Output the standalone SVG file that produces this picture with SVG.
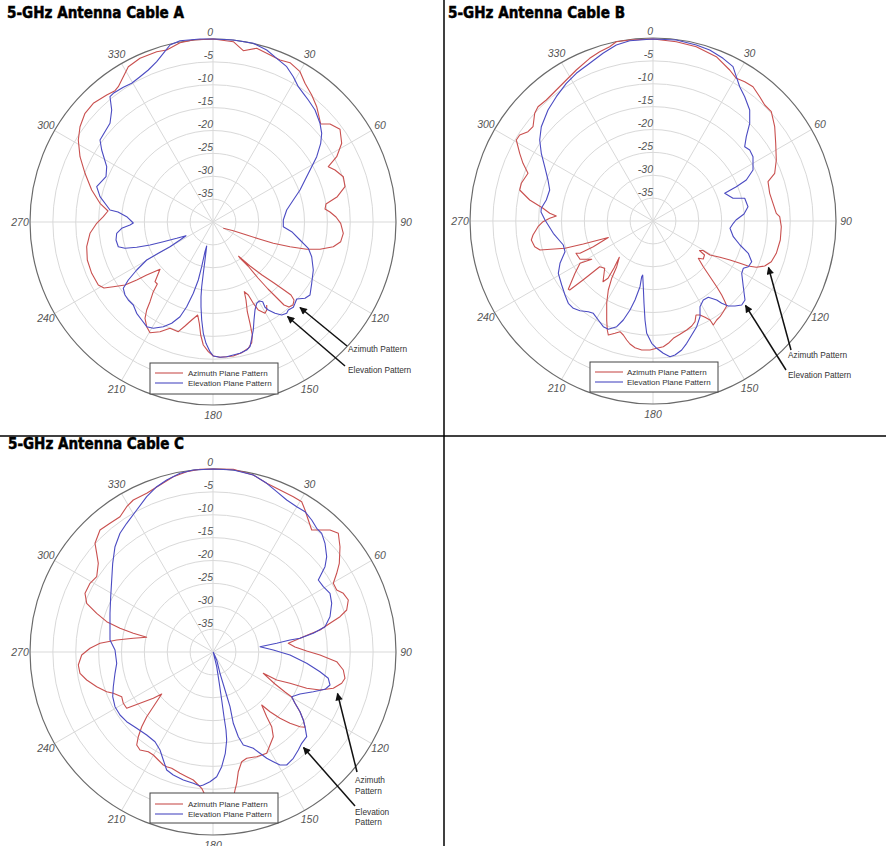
<svg xmlns="http://www.w3.org/2000/svg" xmlns:xlink="http://www.w3.org/1999/xlink" width="886" height="846" viewBox="0 0 886 846">
<style>
.ring{fill:none;stroke:#d9d9d9;stroke-width:1}
.outer{fill:none;stroke:#6a6a6a;stroke-width:1.2}
.spoke{stroke:#d9d9d9;stroke-width:1}
.lbl{font-family:'Liberation Sans',Arial,sans-serif;font-style:italic;font-size:10.5px;fill:#555}
.rl{text-anchor:end}
.al{text-anchor:middle}
.title{font-family:'Liberation Sans Narrow','DejaVu Sans Condensed','Liberation Sans',sans-serif;font-weight:bold;font-size:16px;fill:#000;stroke:#000;stroke-width:0.5}
.az{fill:none;stroke:#c9504f;stroke-width:1.1;stroke-linejoin:round}
.el{fill:none;stroke:#4b4bc2;stroke-width:1.1;stroke-linejoin:round}
.leg{fill:#fff;stroke:#444;stroke-width:1}
.legt{font-family:'Liberation Sans',Arial,sans-serif;font-size:8px;fill:#333}
.ann{font-family:'Liberation Sans',Arial,sans-serif;font-size:8.3px;fill:#333}
.arr{stroke:#111;stroke-width:1.5;fill:none;marker-end:url(#ah)}
.div{stroke:#000;stroke-width:1.5}
#plotC .ring,#plotC .spoke{stroke:#ddd3e0}
</style>
<defs>
<marker id="ah" viewBox="0 0 10 10" refX="9" refY="5" markerWidth="6.5" markerHeight="5" orient="auto" markerUnits="strokeWidth">
<path d="M0,0 L10,5 L0,10 z" fill="#111"/>
</marker>
<g id="grid">
<circle class="ring" r="22.875"/><circle class="ring" r="45.75"/><circle class="ring" r="68.625"/><circle class="ring" r="91.5"/><circle class="ring" r="114.375"/><circle class="ring" r="137.25"/><circle class="ring" r="160.125"/>
<line class="spoke" x1="0" y1="-183" x2="0" y2="183"/>
<line class="spoke" x1="91.5" y1="-158.5" x2="-91.5" y2="158.5"/>
<line class="spoke" x1="158.5" y1="-91.5" x2="-158.5" y2="91.5"/>
<line class="spoke" x1="-183" y1="0" x2="183" y2="0"/>
<line class="spoke" x1="158.5" y1="91.5" x2="-158.5" y2="-91.5"/>
<line class="spoke" x1="91.5" y1="158.5" x2="-91.5" y2="-158.5"/>
<circle class="outer" r="183"/>
<g class="lbl rl">
<text x="0" y="-186">0</text><text x="0" y="-162.6">-5</text><text x="0" y="-139.8">-10</text><text x="0" y="-116.9">-15</text><text x="0" y="-94">-20</text><text x="0" y="-71.1">-25</text><text x="0" y="-48.3">-30</text><text x="0" y="-25.4">-35</text>
</g>
<g class="lbl al">
<text x="96.5" y="-163.6">30</text><text x="167.1" y="-93">60</text><text x="193" y="3.5">90</text><text x="167.1" y="100">120</text><text x="96.5" y="170.6">150</text><text x="0" y="196.5">180</text><text x="-96.5" y="170.6">210</text><text x="-167.1" y="100">240</text><text x="-193" y="3.5">270</text><text x="-167.1" y="-93">300</text><text x="-96.5" y="-163.6">330</text>
</g>
</g>
</defs>
<rect width="886" height="846" fill="#fff"/>
<line class="div" x1="444" y1="0" x2="444" y2="846"/>
<line class="div" x1="0" y1="436" x2="886" y2="436"/>

<g id="plotA">
<text class="title" x="7" y="18" textLength="177" lengthAdjust="spacingAndGlyphs">5-GHz Antenna Cable A</text>
<use xlink:href="#grid" x="213" y="222"/>
<path class="az" d="M213.3,39 L233.3,41.7 L243.3,50.7 L256.7,48.3 L266.7,53.3 L280,60 L290,62.7 L300,71.7 L305,83.3 L311.7,95 L316.7,106.7 L320.7,124 L330,124 L340,129.3 L341.7,143.3 L336.7,156.7 L328.3,166.7 L335,170 L343.3,176.7 L345,186.7 L337.3,196.7 L326,204 L325,209 L330,212 L336,217 L340.7,223.3 L343.3,233.3 L340.7,241.7 L333.3,246.7 L320,249.3 L306.7,249.3 L290,246.7 L273.3,243.3 L260,239.3 L246.7,235 L233.3,230.7 L223.3,228.3 M238.3,256 L250,266 L262,275 L274,283 L284,290 L291,295 L294,300 L293,305 L289,307 L284,305 L277,298 L268,289 L258,278 L248,266 L239,257 M266.7,305 L266.7,310 L265,313.3 L258.3,310 L253.3,303.3 L248.3,295 L244.3,291.7 L246,300 L247.3,311.7 L250,323.3 L252.3,335 L251.7,342.7 L248.3,348.3 L241.7,352.7 L233.3,356 L226.7,356.7 L220,357.3 L213.3,356 L208.3,351.7 L203.3,345 L200.7,335 L199.3,323.3 L197.7,315 L191.7,320 L185,326 L178.3,331.7 L170,328.3 L160,331.7 L150,332.7 L146.7,326.7 L145,318.3 L146.7,310 L150,301.7 L153.3,291.7 L157.3,284 L155,281.7 L160,269.3 L146.7,275 L136.7,280 L125,285 L113.3,286.7 L104,288 L98.3,285 L91.7,273.3 L87.3,260 L86.7,246.7 L90,233.3 L96.7,223.3 L103.3,216.7 L108,211 L100,203.3 L91.7,190 L85,173.3 L80,156.7 L78.3,140 L80,126.7 L85,113.3 L93.3,103.3 L106.7,95 L115,90.7 L118.3,86.7 L123.3,76.7 L128.3,66.7 L140,58.3 L156.7,51.7 L166.7,50 L180,42.7 L193.3,40 L213.3,39"/>
<path class="el" d="M213.3,39 L233.3,40 L253.3,43.3 L266.7,50 L276.7,58.3 L286.7,66.7 L293.3,76.7 L298.3,86.7 L303.3,93.3 L308.3,100 L315,110 L320,123.3 L321.7,133.3 L320.7,143.3 L316.7,156.7 L311.7,166.7 L305,180 L300,190 L293.3,200 L286.7,210 L283.3,220 L283.3,226.7 L291.7,231.7 L300,240 L308.3,248.3 L311.7,256.7 L313.3,270 L311.7,283.3 L310,295 L305,298.3 L296.7,299 L295,303.3 L293.3,307.3 L288.3,310 L286.7,313.3 L281.7,315 L275,313.3 L268.3,310 L265,307.3 L262.7,301.7 L259.3,301 L256.7,303.3 L255,310 L254,320 L253.3,330 L251.7,338.3 L250,346.7 L246.7,350 L240,353.3 L233.3,355 L226.7,356.7 L220,357.3 L213.3,356 L210,351.7 L206,343.3 L203.3,333.3 L201.7,320 L201,306.7 L201,296.7 L201.7,286.7 L203.3,273.3 L205,260 L206.7,246 L205,251.7 L201.7,266.7 L198.3,280 L193.3,293.3 L186.7,306.7 L180,316.7 L171.7,323.3 L163.3,326.7 L153.3,328.3 L146.7,326.7 L141.7,320 L136.7,313.3 L133.3,305 L128.3,300 L125,295 L123.3,288.3 L128.3,280 L136.7,270 L146.7,260 L158.3,253.3 L170,246.7 L180,240 L186,235.7 L176.7,238.3 L163.3,241.7 L150,245 L136.7,247.3 L125,248.3 L118.3,246.7 L116,240 L116.7,233.3 L121.7,228.3 L130,225 L133.3,223 L126.7,216.7 L118,212 L110,210 L100,196.7 L96.7,186.7 L106,176.7 L106.7,166.7 L101.7,150 L100,140 L110,123.3 L111.7,110 L110,96.7 L113.3,93.3 L123.3,87.3 L131.7,83.3 L140,76.7 L148.3,70 L156.7,61.7 L163.3,53.3 L170,45 L180,40.7 L200,39 Z"/>
<rect class="leg" x="150" y="363" width="128" height="31"/>
<line x1="155" y1="373" x2="183" y2="373" class="az"/>
<line x1="155" y1="383" x2="183" y2="383" class="el"/>
<text class="legt" x="188" y="376">Azimuth Plane Pattern</text>
<text class="legt" x="188" y="386">Elevation Plane Pattern</text>
<line class="arr" x1="347" y1="346" x2="300" y2="307.5"/>
<line class="arr" x1="345" y1="366" x2="287.5" y2="316.5"/>
<text class="ann" x="348" y="352">Azimuth Pattern</text>
<text class="ann" x="348" y="373">Elevation Pattern</text>
</g>

<g id="plotB">
<text class="title" x="448" y="18" textLength="177" lengthAdjust="spacingAndGlyphs">5-GHz Antenna Cable B</text>
<use xlink:href="#grid" x="653" y="221"/>
<path class="az" d="M653,39 L676.3,41.7 L696.3,46.7 L716.3,56.7 L729.7,70 L736.3,78.3 L744.7,81.7 L753,86.7 L759.7,96.7 L764.7,105 L771.3,111.7 L774.7,126.7 L775.7,143.3 L776.3,160 L774.7,173.3 L768,181.7 L769.7,193.3 L773,203.3 L776.3,213.3 L779.7,216.7 L781.3,226.7 L780.3,240 L776.3,253.3 L771.3,261.7 L764.7,266 L756.3,267.3 L748,266 L740,263.3 L730,260 L720,257.3 L710,255 L703,250.5 L699.5,250.5 L704.5,255 L703.3,259 L698.3,258.3 L703.3,266.7 L710,276.7 L716.7,286.7 L721.7,295 L725,301.7 L726.7,306 L723.3,311.7 L720,316.7 L716.7,320 L713.3,325 L710,320 L705,317.3 L700,315 L696,315 L695,321.7 L691.7,326 L686.7,330 L680,334.3 L673.3,338.3 L668.3,343.3 L663.3,346.7 L656.7,348.3 L650,350 L641.7,350 L635,347.7 L630,344 L626.7,340 L623.3,335 L620,331.7 L615,333.3 L608.3,335 L607.3,330 L606.7,320 L606.7,303.3 L608.3,290 L611.7,278.3 L616.7,266.7 L619.3,257.3 L614,268 L608,278.3 L603,281.7 L604.7,268.3 L599.7,266.7 L583,280 L569.7,290 L568.3,289.3 L575,273.3 L580,263.3 L591.7,259.3 L580,259.3 L576,253.3 L580,253.3 L593.3,246.7 L608.3,237.5 L583.3,244 L565,248.3 L540,250 L534.7,246.7 L531.3,240 L533,235 L538,226.7 L543,221.7 L549.7,218.3 L556.3,216 L549.7,213.3 L543,208.3 L529.7,200 L519.7,190 L521.3,183.3 L528,173.3 L523,163.3 L519.7,153.3 L516.3,140 L519.7,135 L528,131.7 L533,126.7 L534.7,113.3 L538,106.7 L546.3,100 L556.3,90 L566.3,80 L576.3,70 L589.7,58.3 L599.7,51.7 L609.7,46.7 L616.3,41.7 L629.7,40 Z"/>
<path class="el" d="M653,39 L676.3,40 L696.3,45 L709.7,50 L723,58.3 L733,66.7 L736.3,76.7 L739.7,86.7 L744.7,96.7 L749.7,110 L749.7,123.3 L746.3,136.7 L744.7,146.7 L749.7,150 L753,156.7 L753,170 L746.3,180 L736.3,186.7 L724.7,193.3 L733,198.3 L744.7,198.3 L748,206.7 L744,214 L736,220 L733.3,223.3 L730,228.3 L733.3,236.7 L740,245 L748.3,253.3 L751.7,261.7 L748.3,266.7 L743.3,268.3 L741.7,273.3 L743.3,286.7 L745,300 L741.7,305 L735,306 L728.3,306 L721.7,303.3 L716.7,300 L708.3,297.3 L703.3,300 L700,306.7 L700,316.7 L696.7,326.7 L691.7,335 L686.7,343.3 L681.7,350 L675,355 L670,356.7 L663.3,353.3 L656.7,348.3 L651.7,343.3 L646.7,333.3 L645,320 L644,303.3 L643.3,286.7 L642.7,275 L641.7,276.7 L640,286.7 L635,300 L630,310 L623.3,320 L616.7,326.7 L608.3,329.3 L603.3,326.7 L598.3,320 L593.3,313.3 L588.3,311.7 L580,310.7 L573.3,308.3 L568.3,303.3 L565,295 L561.7,285 L558.3,273.3 L560,263.3 L565,251.7 L563.3,245 L553.3,233.3 L545,220 L541,212 L541.3,208.3 L546.3,200 L549.7,190 L548,180 L544.7,166.7 L541.3,153.3 L539.7,140 L541.3,126.7 L548,110 L556.3,96.7 L566.3,83.3 L576.3,73.3 L589.7,63.3 L603,53.3 L616.3,45 L629.7,40.7 Z"/>
<rect class="leg" x="590" y="362" width="128" height="30"/>
<line x1="595" y1="372" x2="623" y2="372" class="az"/>
<line x1="595" y1="382" x2="623" y2="382" class="el"/>
<text class="legt" x="627" y="375">Azimuth Plane Pattern</text>
<text class="legt" x="627" y="385">Elevation Plane Pattern</text>
<line class="arr" x1="791" y1="350" x2="768.5" y2="267.5"/>
<line class="arr" x1="786" y1="370" x2="745.5" y2="305.5"/>
<text class="ann" x="788" y="358">Azimuth Pattern</text>
<text class="ann" x="788" y="378">Elevation Pattern</text>
</g>

<g id="plotC">
<text class="title" x="8" y="449" textLength="176" lengthAdjust="spacingAndGlyphs">5-GHz Antenna Cable C</text>
<use xlink:href="#grid" x="213" y="652"/>
<path class="az" d="M213.3,469 L233.3,469.3 L253.3,475 L266.7,483.3 L280,490 L293.3,496.7 L301.7,501.7 L305,510 L308.3,520 L311.7,530 L320,530 L330,530 L338.3,533.3 L340,546.7 L339.3,563.3 L336.7,573.3 L333.3,583.3 L336.7,590 L343.3,593.3 L348.3,600 L346.7,610 L340,616.7 L330,623.3 L320,630 L310,634 L300,638.3 L288.3,643.3 L295,647 L306.7,651 L320,655 L336.7,661.7 L343.3,670 L345,678.3 L341.7,683.3 L333.3,688.3 L320,690 L306.7,688.3 L290,683.3 L276.7,680 L263.3,673.3 L275,684 L285,692 L291.7,697 L295,703.3 L300,711.7 L303.3,720 L305,727.3 L300,726.7 L290,723.3 L280,718.3 L270,711.7 L261.7,705 L266.7,716.7 L271.7,726.7 L273.3,736.7 L266.7,753.3 L256.7,756.7 L246.7,758.3 L241.7,761.7 L238.3,771.7 L236.7,783.3 L235,790 L233,800 L225,808 L212,805 L205,795 L201.7,788.3 L198.3,785 L193.3,780 L186.7,776.7 L180,773.3 L171.7,768.3 L166.7,766.7 L163.3,765 L158.3,760 L153.3,755 L148.3,751.7 L140,750 L136.7,745 L138.3,736.7 L141.7,726.7 L146.7,716.7 L153.3,706.7 L161.7,694 L153.3,698.3 L140,703.3 L126.7,708.3 L123.3,703.3 L121.7,696.7 L113.3,693.3 L106.7,691.7 L96.7,686.7 L86.7,680 L80,673.3 L78.3,665 L81.7,655 L90,648.3 L100,643.3 L116.7,640 L133.3,638.3 L146.7,637.3 L133.3,633.3 L120,628.3 L106.7,621.7 L96.7,613.3 L86.7,603.3 L85,593.3 L90,583.3 L96.7,576.7 L98.3,563.3 L96.7,553.3 L95,543.3 L100,530 L110,523.3 L120,516.7 L126.7,506.7 L133.3,500 L146.7,493.3 L160,485 L173.3,476.7 L186.7,471.7 L200,469.3 L213.3,469"/>
<path class="el" d="M213.3,469 L233.3,470 L253.3,475 L266.7,483.3 L276.7,491.7 L286.7,500 L296.7,506.7 L305,511.7 L311.7,520 L316.7,528.3 L321.7,533.3 L325,543.3 L326.7,556.7 L325,566.7 L321.7,573.3 L318.3,580 L323.3,586.7 L330,593.3 L331.7,603.3 L330,616.7 L325,626.7 L313.3,633.3 L300,638.3 L290,640 L276.7,643.3 L260,646.7 L273.3,650 L290,655 L306.7,663.3 L320,671.7 L328.3,678.3 L330,685 L325,689.3 L313.3,691.7 L300,694 L291.7,696.7 L295,703.3 L300,711.7 L303.3,720 L305,726.7 L306.7,736.7 L301.7,743.3 L298.3,750 L293.3,758.3 L286.7,765 L280,765 L273.3,761.7 L266.7,758.3 L260,753.3 L253.3,748.3 L246.7,746 L243.3,745 L238.3,736.7 L233.3,723.3 L230,706.7 L225,690 L220,673.3 L216.7,660 L213.3,652.3 L216.7,666.7 L219.3,683.3 L221.7,700 L224,716.7 L226,730 L226.7,740 L225.3,753.3 L221.7,766.7 L216.7,776.7 L210,781.7 L203.3,785 L200,786 L193.3,783.3 L183.3,780 L173.3,775 L166.7,770 L163.3,760 L160,750 L155,741.7 L146.7,735 L136.7,728.3 L126.7,721.7 L120,715 L115,706.7 L112.7,696.7 L113.3,686.7 L115,673.3 L116.7,663.3 L115,650 L110,640 L110,630 L110,613.3 L110.7,596.7 L111.7,580 L112.7,563.3 L115,546.7 L120,533.3 L126.7,523.3 L136.7,510 L146.7,496.7 L156.7,486.7 L166.7,480 L180,473.3 L193.3,470 Z"/>
<rect class="leg" x="150" y="793" width="128" height="30"/>
<line x1="155" y1="804" x2="183" y2="804" class="az"/>
<line x1="155" y1="814" x2="183" y2="814" class="el"/>
<text class="legt" x="188" y="807">Azimuth Plane Pattern</text>
<text class="legt" x="188" y="817">Elevation Plane Pattern</text>
<line class="arr" x1="357" y1="772" x2="337.5" y2="693.5"/>
<line class="arr" x1="355" y1="806" x2="303.5" y2="747.5"/>
<text class="ann" x="355" y="783">Azimuth</text>
<text class="ann" x="355" y="794">Pattern</text>
<text class="ann" x="355" y="815">Elevation</text>
<text class="ann" x="355" y="825">Pattern</text>
</g>
</svg>
